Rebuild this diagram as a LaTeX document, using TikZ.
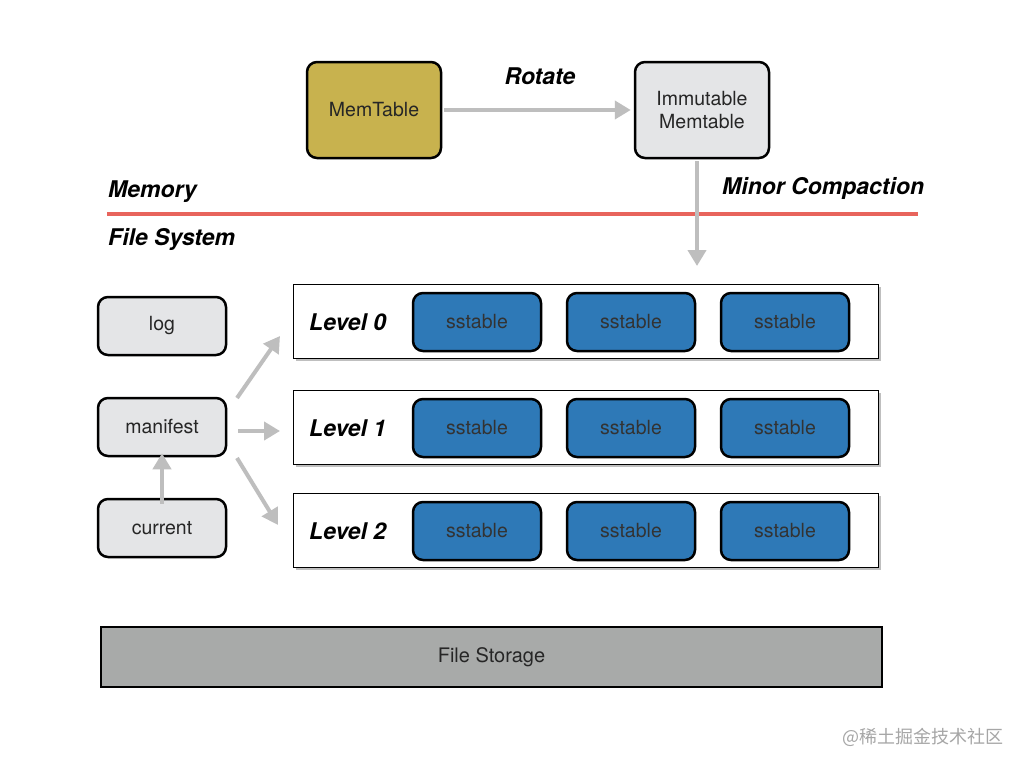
\documentclass[tikz,border=0pt]{standalone}
\usepackage{fontspec}
\setmainfont{TeX Gyre Heros}
\newfontfamily\cjk{Noto Sans CJK SC}
\usetikzlibrary{arrows.meta}
\definecolor{olive}{RGB}{200,178,78}
\definecolor{lgray}{RGB}{228,229,231}
\definecolor{sblue}{RGB}{46,121,183}
\definecolor{fsgray}{RGB}{168,170,169}
\definecolor{agray}{RGB}{190,190,190}
\definecolor{redline}{RGB}{232,100,92}
\tikzset{
  box/.style={draw=black, line width=2.5pt, rounded corners=10pt, inner sep=0pt, font=\fontsize{19.5}{23}\selectfont, text=black!85},
  sst/.style={box, fill=sblue, minimum width=128pt, minimum height=58pt, font=\fontsize{19.5}{23}\selectfont, text=black!80},
  side/.style={box, fill=lgray, minimum width=128pt, minimum height=58pt},
  lvl/.style={draw=black, line width=1pt, fill=white, minimum width=585pt, minimum height=74pt, inner sep=0pt},
  lab/.style={font=\fontsize{23}{26}\selectfont\bfseries\itshape, anchor=west, inner sep=0pt},
  garrow/.style={draw=agray, line width=4pt, -{Triangle[length=16pt,width=18pt]}},
}
\begin{document}
\begin{tikzpicture}[x=1pt,y=-1pt]
\useasboundingbox (0,0) rectangle (1024,768);
\fill[white] (0,0) rectangle (1024,768);
% memory area
\node[box, fill=olive, minimum width=134pt, minimum height=96pt] (mem) at (374,110) {MemTable};
\node[box, fill=lgray, minimum width=134pt, minimum height=96pt, align=center] (imm) at (702,110) {Immutable\\Memtable};
\node[font=\fontsize{23}{26}\selectfont\bfseries\itshape, inner sep=0pt] (rot) at (540,76) {Rotate};
\draw[garrow] (mem.east) ++(2,0) -- ([xshift=-3pt]imm.west);
\node[lab] (memory) at (108,192) {Memory};
\node[lab] (fs) at (108,239) {File System};
\node[lab] (minor) at (722,188) {Minor Compaction};
\coordinate (rl1) at (107,214);
\coordinate (rl2) at (918,214);
\draw[redline, line width=3.5pt] (rl1) -- (rl2);
\coordinate (dn) at (697,266);
\draw[garrow] ([xshift=-5pt,yshift=-2pt]imm.south) -- (dn);
% levels
\foreach \i/\y in {0/321,1/427,2/530}{
  \fill[black!25] (296,\y-34) rectangle (881,\y+40);
  \node[lvl] (L\i) at (585.5,\y) {};
  \node[lab] (lab\i) at (309,\y+1) {Level \i};
  \node[sst] (s\i a) at (477,\y+1) {sstable};
  \node[sst] (s\i b) at (631,\y+1) {sstable};
  \node[sst] (s\i c) at (785,\y+1) {sstable};
}
% side boxes
\node[side] (log) at (162,326) {log};
\node[side] (man) at (162,427) {manifest};
\node[side] (cur) at (162,528) {current};
\coordinate (m1) at (237,398);
\coordinate (t1) at (280,336);
\coordinate (m2) at (238,431);
\coordinate (t2) at (280,431);
\coordinate (m3) at (237,458);
\coordinate (t3) at (278,525);
\draw[garrow] (m1) -- (t1);
\draw[garrow] (m2) -- (t2);
\draw[garrow] (m3) -- (t3);
\draw[garrow] ([yshift=-6pt]cur.north) -- ([yshift=4pt]man.south);
% file storage
\node[draw=black, line width=2.5pt, fill=fsgray, minimum width=781pt, minimum height=60pt, font=\fontsize{20}{24}\selectfont, text=black!85] (store) at (491.5,657) {File Storage};
% watermark
\node[font=\cjk\fontsize{18}{21}\selectfont, text=black!35, anchor=east, inner sep=0pt] (wm) at (1004,737) {@稀土掘金技术社区};
\end{tikzpicture}
\end{document}
